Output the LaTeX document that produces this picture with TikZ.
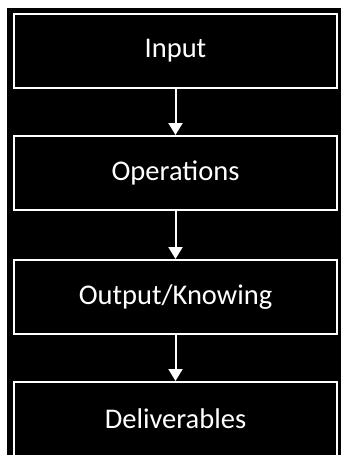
\documentclass[tikz,border=0pt]{standalone}
\usepackage{fontspec}
\setmainfont{Carlito}
\usetikzlibrary{positioning,arrows.meta}
\tikzset{
  stagebox/.style={draw=white,line width=2pt,fill=black,text=white,
    minimum width=323pt,minimum height=74pt,
    font=\fontsize{28.5}{34}\selectfont},
  flowarrow/.style={draw=white,line width=2pt,
    -{Triangle[width=14pt,length=12pt]}}
}
\begin{document}
\begin{tikzpicture}
  \useasboundingbox (0,0) rectangle (341pt,-455pt);
  %% black panel
  \fill[black] (7pt,-8pt) rectangle (341pt,-455pt);
  %% stages
  \node[stagebox] (input) at (175.5pt,-51pt) {Input};
  \node[stagebox,below=46pt of input] (operations) {Operations};
  \node[stagebox,below=48pt of operations] (output) {Output/Knowing};
  \node[stagebox,below=46pt of output] (deliverables) {Deliverables};
  %% arrows
  \draw[flowarrow] (input) -- (operations);
  \draw[flowarrow] (operations) -- (output);
  \draw[flowarrow] (output) -- (deliverables);
\end{tikzpicture}
\end{document}
